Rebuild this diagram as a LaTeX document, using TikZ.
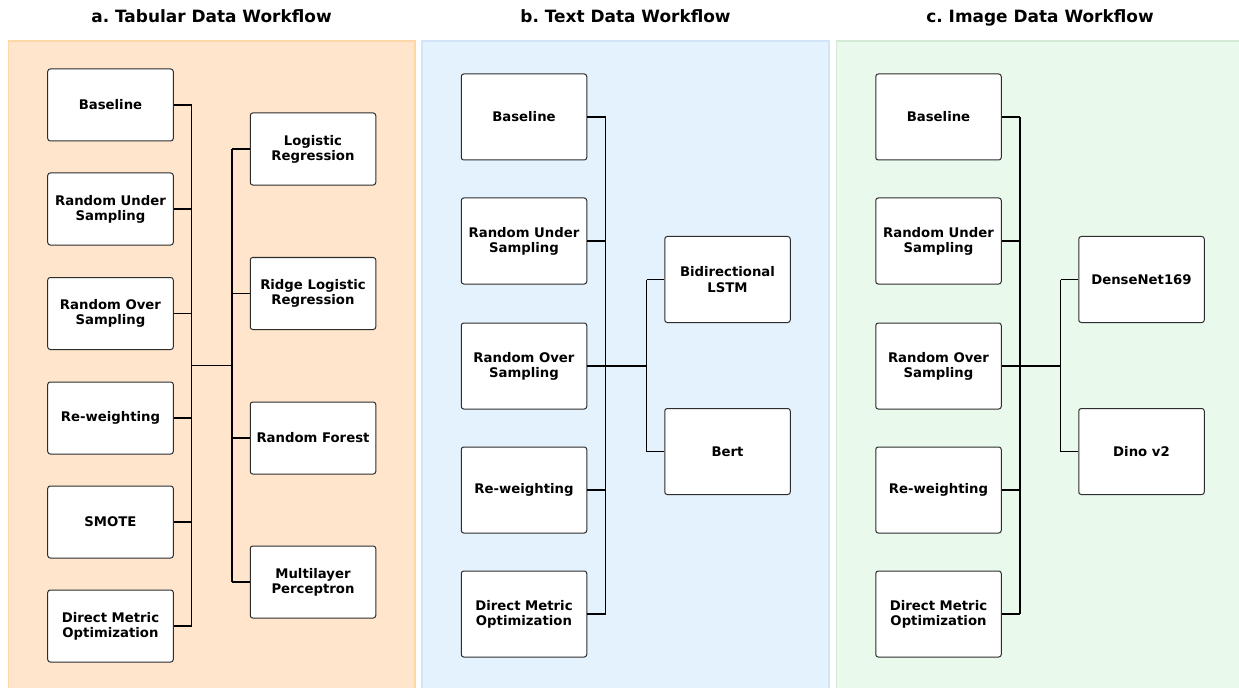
\documentclass[tikz,border=0pt]{standalone}
\usepackage{fontspec}
\setmainfont{DejaVu Sans}
\frenchspacing
\definecolor{orfill}{RGB}{255,229,203}
\definecolor{orline}{RGB}{253,216,166}
\definecolor{blfill}{RGB}{228,242,253}
\definecolor{blline}{RGB}{210,228,247}
\definecolor{grfill}{RGB}{233,249,236}
\definecolor{grline}{RGB}{211,234,213}
\definecolor{boxline}{RGB}{45,45,45}
\begin{document}
\begin{tikzpicture}[x=1bp,y=-1bp,
  boxa/.style={draw=boxline, fill=white, rounded corners=2.5bp, line width=1bp,
    minimum width=125.5bp, minimum height=72bp, align=center, inner sep=0pt,
    font=\fontsize{13.3}{15.2}\selectfont\bfseries},
  boxb/.style={boxa, minimum height=86bp},
  conn/.style={draw=black, line width=1.2bp},
  title/.style={font=\fontsize{17}{20}\selectfont\bfseries, anchor=base},
  panel/.style={line width=1.5bp}]
\useasboundingbox (0,0) rectangle (1239,688);
\clip (0,0) rectangle (1239,688);
\fill[white] (0,0) rectangle (1239,688);
% panels
\draw[panel, draw=orline, fill=orfill] (8.5,41) rectangle (415,700);
\draw[panel, draw=blline, fill=blfill] (422,41) rectangle (829,700);
\draw[panel, draw=grline, fill=grfill] (836.5,41) rectangle (1250,700);
\node[title] (ta) at (211.5,22.5) {a. Tabular Data Workflow};
\node[title] (tb) at (625.5,22.5) {b. Text Data Workflow};
\node[title] (tc) at (1040,22.5) {c. Image Data Workflow};
% panel a
\node[boxa] (a1) at (110.5,105) {Baseline};
\node[boxa] (a2) at (110.5,209) {Random Under\\Sampling};
\node[boxa] (a3) at (110.5,313.5) {Random Over\\Sampling};
\node[boxa] (a4) at (110.5,418) {Re-weighting};
\node[boxa] (a5) at (110.5,522) {SMOTE};
\node[boxa] (a6) at (110.5,626) {Direct Metric\\Optimization};
\node[boxa] (m1) at (313,149) {Logistic\\Regression};
\node[boxa] (m2) at (313,293.5) {Ridge Logistic\\Regression};
\node[boxa] (m3) at (313,438) {Random Forest};
\node[boxa] (m4) at (313,582) {Multilayer\\Perceptron};
\coordinate (aL) at (191.5,365.5);
\coordinate (aR) at (232,365.5);
\foreach \i in {1,...,6} { \draw[conn] (a\i.east) -- (a\i.east -| aL); }
\draw[conn] (a1.east -| aL) -- (a6.east -| aL);
\draw[conn] (aL) -- (aR);
\draw[conn] (m1.west -| aR) -- (m4.west -| aR);
\foreach \i in {1,...,4} { \draw[conn] (m\i.west -| aR) -- (m\i.west); }
% panel b
\node[boxb] (b1) at (524,117) {Baseline};
\node[boxb] (b2) at (524,241) {Random Under\\Sampling};
\node[boxb] (b3) at (524,366) {Random Over\\Sampling};
\node[boxb] (b4) at (524,490) {Re-weighting};
\node[boxb] (b5) at (524,614) {Direct Metric\\Optimization};
\node[boxb] (t1) at (727.5,279.5) {Bidirectional\\LSTM};
\node[boxb] (t2) at (727.5,451.5) {Bert};
\coordinate (bL) at (605.7,366);
\coordinate (bR) at (646.7,366);
\foreach \i in {1,2,4,5} { \draw[conn] (b\i.east) -- (b\i.east -| bL); }
\draw[conn] (b1.east -| bL) -- (b5.east -| bL);
\draw[conn] (b3.east) -- (bR);
\draw[conn] (t1.west -| bR) -- (t2.west -| bR);
\foreach \i in {1,2} { \draw[conn] (t\i.west -| bR) -- (t\i.west); }
% panel c
\node[boxb] (c1) at (938.5,117) {Baseline};
\node[boxb] (c2) at (938.5,241) {Random Under\\Sampling};
\node[boxb] (c3) at (938.5,366) {Random Over\\Sampling};
\node[boxb] (c4) at (938.5,490) {Re-weighting};
\node[boxb] (c5) at (938.5,614) {Direct Metric\\Optimization};
\node[boxb] (i1) at (1141.5,279.5) {DenseNet169};
\node[boxb] (i2) at (1141.5,451.5) {Dino v2};
\coordinate (cL) at (1020,366);
\coordinate (cR) at (1060.5,366);
\foreach \i in {1,2,4,5} { \draw[conn] (c\i.east) -- (c\i.east -| cL); }
\draw[conn] (c1.east -| cL) -- (c5.east -| cL);
\draw[conn] (c3.east) -- (cR);
\draw[conn] (i1.west -| cR) -- (i2.west -| cR);
\foreach \i in {1,2} { \draw[conn] (i\i.west -| cR) -- (i\i.west); }
\end{tikzpicture}
\end{document}
